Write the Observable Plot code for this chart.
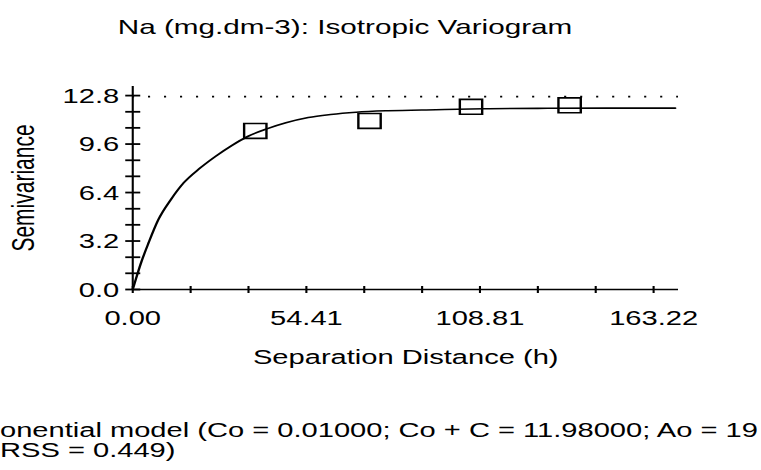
<!DOCTYPE html>
<html><head><meta charset="utf-8">
<script src="https://cdn.jsdelivr.net/npm/d3@7"></script>
<script src="https://cdn.jsdelivr.net/npm/@observablehq/plot@0.6"></script>
<style>
html,body{margin:0;padding:0;background:#fff;overflow:hidden;width:761px;height:470px;}
#wrap{position:absolute;left:0;top:0;width:507.33px;height:470px;transform:scaleX(1.5);transform-origin:0 0;font-family:"Liberation Sans",Arial,sans-serif;color:#000;}
#title{position:absolute;left:0;width:460px;top:18px;text-align:center;font-size:19.8px;line-height:19px;white-space:nowrap;}
#chart{position:absolute;left:0;top:50px;}
.cap{position:absolute;font-size:19.4px;line-height:19px;white-space:nowrap;}
</style></head><body>
<div id="wrap">
  <div id="title"></div>
  <div id="chart"></div>
  <div class="cap" id="cap1" style="left:0px;top:421px"></div>
  <div class="cap" id="cap2" style="left:0px;top:441px"></div>
</div>
<script>
// ---- data ----
const titleText = "Na (mg.dm-3): Isotropic Variogram";
const xAxisLabel = "Separation Distance (h)";
const yAxisLabel = "Semivariance";
const captionLines = ["onential model (Co = 0.01000; Co + C = 11.98000; Ao = 19", "RSS = 0.449)"];

// observed semivariance (squares)
const lagH = [38.4, 74.2, 106.0, 136.9];
const lagGamma = [10.47, 11.13, 12.06, 12.16];

// fitted model curve
const curveH = [0, 1, 2.5, 5, 8, 12, 16, 21, 26, 31, 36, 42, 48, 55, 62, 70, 80, 95, 110, 130, 150, 170];
const curveGamma = [0.0, 0.7, 1.7, 3.1, 4.6, 5.95, 7.05, 8.0, 8.8, 9.5, 10.1, 10.6, 11.0, 11.35, 11.55, 11.7, 11.8, 11.87, 11.93, 11.96, 11.97, 11.97];

// sample variance (dotted line)
const sampleVariance = [12.73];

// ticks
const xTickLabels = [0, 54.41, 108.81, 163.22];
const xTicks = [0, 18.14, 36.27, 54.41, 72.54, 90.68, 108.81, 126.95, 145.08, 163.22];
const yTickLabels = [0, 3.2, 6.4, 9.6, 12.8];
const yTicks = [0, 1.07, 2.13, 3.2, 4.27, 5.33, 6.4, 7.47, 8.53, 9.6, 10.67, 11.73, 12.8];

// ---- build ----
document.getElementById("title").textContent = titleText;
document.getElementById("cap1").textContent = captionLines[0];
document.getElementById("cap2").textContent = captionLines[1];

const points = lagH.map((h, i) => ({h, g: lagGamma[i]}));
const curve = curveH.map((h, i) => ({h, g: curveGamma[i]}));

const vTick = {draw(ctx) { ctx.moveTo(0, -3.5); ctx.lineTo(0, 3.5); }};
const hTick = {draw(ctx) { ctx.moveTo(-5, 0); ctx.lineTo(5, 0); }};

const chart = Plot.plot({
  width: 507, height: 330,
  marginLeft: 88, marginRight: 55, marginTop: 36, marginBottom: 91,
  x: {domain: [0, 171.1]},
  y: {domain: [0, 13.4]},
  style: {background: "transparent", fontFamily: "'Liberation Sans', Arial, sans-serif", fontSize: "19.4px", color: "#000", overflow: "visible"},
  marks: [
    Plot.ruleY(sampleVariance, {stroke: "#000", strokeWidth: 1.8, strokeDasharray: "1.4 9.27", strokeDashoffset: 0}),
    Plot.line(curve, {x: "h", y: "g", stroke: "#000", strokeWidth: 1.6, curve: "monotone-x"}),
    Plot.dot(points, {x: "h", y: "g", symbol: "square", r: 8.4, fill: "none", stroke: "#000", strokeWidth: 1.6}),
    Plot.ruleY([0], {stroke: "#000", strokeWidth: 1.6}),
    Plot.ruleX([0], {stroke: "#000", strokeWidth: 1.4}),
    Plot.dot(xTicks, {x: d => d, y: 0, symbol: vTick, fill: "none", stroke: "#000", strokeWidth: 1.4}),
    Plot.dot(yTicks, {x: 0, y: d => d, symbol: hTick, fill: "none", stroke: "#000", strokeWidth: 1.8}),
    Plot.axisX(xTickLabels, {tickSize: 0, tickPadding: 22, tickFormat: d => d.toFixed(2), label: null}),
    Plot.axisY(yTickLabels, {tickSize: 0, tickPadding: 9, tickFormat: d => d.toFixed(1), label: null, dy: 1}),
    Plot.text([xAxisLabel], {text: d => d, frameAnchor: "bottom", dy: 68, lineAnchor: "middle"}),
    Plot.text([yAxisLabel], {text: d => d, frameAnchor: "left", rotate: -90, dx: -72.7, fontSize: 21, textAnchor: "middle", lineAnchor: "middle"})
  ]
});
document.getElementById("chart").appendChild(chart);
</script>
</body></html>
